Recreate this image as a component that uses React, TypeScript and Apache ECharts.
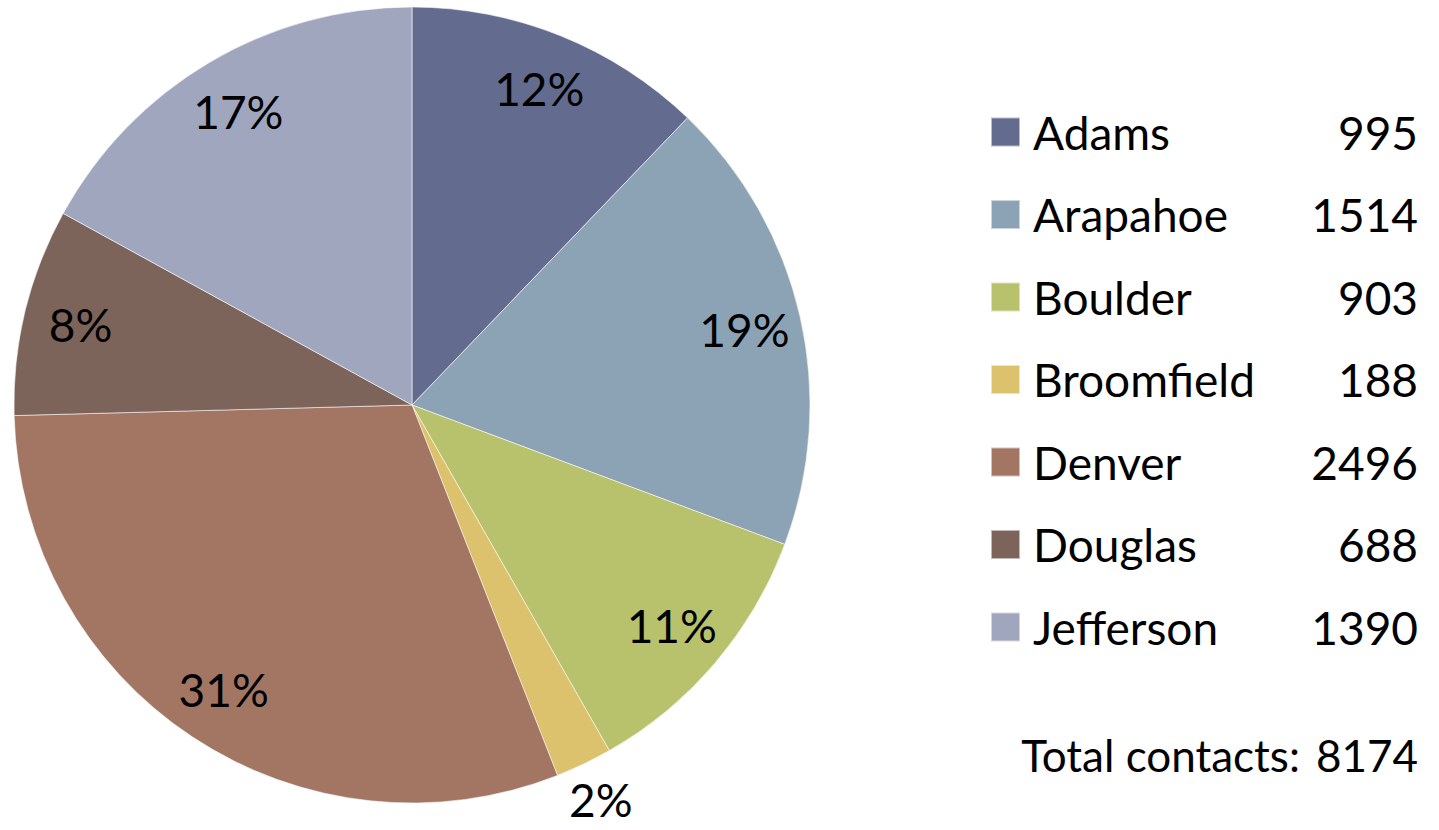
import React, { useEffect, useRef } from "react";
import * as echarts from "echarts";

const counties = ["Adams", "Arapahoe", "Boulder", "Broomfield", "Denver", "Douglas", "Jefferson"];
const contacts = [995, 1514, 903, 188, 2496, 688, 1390];
const colors = ["#636c8f", "#8ca3b5", "#b8c16b", "#ddc26e", "#a37563", "#7d645b", "#a1a6bf"];
const totalLabel = "Total contacts:";

const FONT = "Lato, 'Open Sans', sans-serif";

export default function App() {
  const ref = useRef<HTMLDivElement>(null);
  useEffect(() => {
    if (!ref.current) return;
    const chart = echarts.init(ref.current, undefined, { renderer: "svg" });
    const total = contacts.reduce((a, b) => a + b, 0);
    const data = counties.map((name, i) => ({ name, value: contacts[i], itemStyle: { color: colors[i] } }));
    const valueOf: Record<string, number> = {};
    counties.forEach((c, i) => (valueOf[c] = contacts[i]));
    const pctFmt = (p: any) => Math.round(p.percent) + "%";
    const labelBase = {
      show: true,
      position: "inside" as const,
      color: "#000",
      fontFamily: FONT,
      fontSize: 46,
      lineHeight: 46,
      formatter: pctFmt,
    };
    chart.setOption({
      animation: false,
      textStyle: { fontFamily: FONT },
      legend: {
        orient: "vertical",
        left: 990,
        top: 109,
        padding: 0,
        itemWidth: 29,
        itemHeight: 29,
        itemGap: 36.5,
        icon: "rect",
        selectedMode: false,
        data: counties,
        formatter: (name: string) => `{s|}{n|${name}}{v|${valueOf[name]}}`,
        textStyle: {
          fontFamily: FONT,
          fontSize: 46,
          color: "#000",
          rich: {
            s: { width: 8 },
            n: { width: 265, fontSize: 46, fontFamily: FONT, color: "#000" },
            v: { width: 120, align: "right", fontSize: 46, fontFamily: FONT, color: "#000" },
          },
        },
      },
      graphic: [
        {
          type: "text",
          right: 21,
          top: 733,
          style: {
            text: `{a|${totalLabel}}{b|${total}}`,
            fill: "#000",
            font: `44px ${FONT}`,
            rich: {
              a: { fontSize: 44, fontFamily: FONT, fill: "#000" },
              b: { fontSize: 44, fontFamily: FONT, fill: "#000", padding: [0, 0, 0, 16] },
            },
          },
        },
      ],
      series: [
        {
          type: "pie",
          center: [412, 405],
          radius: [0, 398],
          startAngle: 90,
          clockwise: true,
          label: { show: false },
          labelLine: { show: false },
          itemStyle: { borderColor: "rgba(255,255,255,0.55)", borderWidth: 1 },
          emphasis: { disabled: true },
          silent: true,
          data,
        },
        {
          type: "pie",
          center: [412, 405],
          radius: [0, 676],
          startAngle: 90,
          clockwise: true,
          silent: true,
          emphasis: { disabled: true },
          itemStyle: { color: "rgba(0,0,0,0)", borderWidth: 0 },
          labelLine: { show: false },
          label: labelBase,
          data: counties.map((name, i) => ({
            name,
            value: contacts[i],
            label: { show: name !== "Broomfield" },
          })),
        },
        {
          type: "pie",
          center: [412, 405],
          radius: [0, 868],
          startAngle: 90,
          clockwise: true,
          silent: true,
          emphasis: { disabled: true },
          itemStyle: { color: "rgba(0,0,0,0)", borderWidth: 0 },
          labelLine: { show: false },
          label: labelBase,
          data: counties.map((name, i) => ({
            name,
            value: contacts[i],
            label: { show: name === "Broomfield" },
          })),
        },
      ],
    });
    return () => chart.dispose();
  }, []);
  return (
    <div
      ref={ref}
      style={{ position: "fixed", left: 0, top: 0, width: 1439, height: 830, background: "#fff" }}
    />
  );
}
